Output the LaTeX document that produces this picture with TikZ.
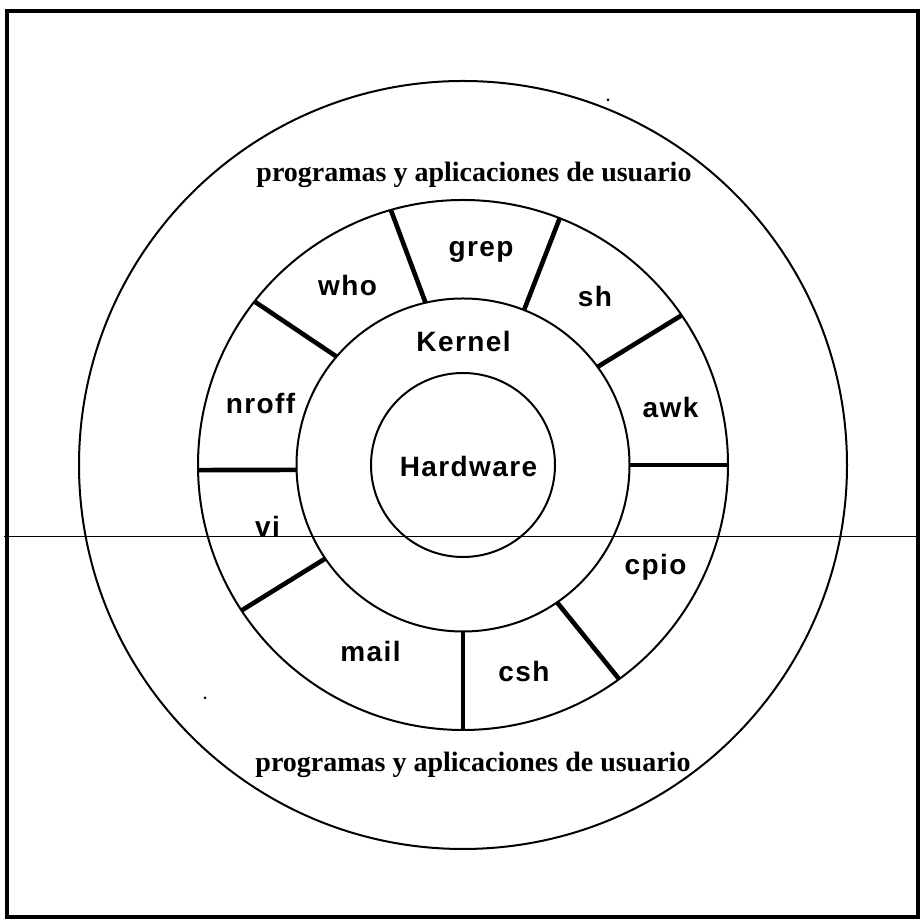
\documentclass[tikz,border=0pt]{standalone}
\usepackage{fontspec}
\setmainfont{Liberation Serif}
\newfontfamily\toolfont{Liberation Sans}[LetterSpace=5]
\begin{document}
\begin{tikzpicture}[x=0.5pt, y=0.5pt,
		ring/.style={line width=1pt},
		sep/.style={line width=2.3pt},
		tool/.style={font=\toolfont\bfseries\fontsize{14}{16}\selectfont, anchor=base},
		user/.style={font=\bfseries\fontsize{14}{17}\selectfont, anchor=base}]
	% Khung
	\useasboundingbox (0,0) rectangle (922,920);
	\draw[line width=2pt] (7,909) rectangle (918,3);
	
	% Tâm các vòng tròn
	\coordinate (O) at (463,455);
	
	% Vẽ các vòng tròn
	\draw[ring] (O) circle (384);
	\draw[ring] (O) circle (265);
	\draw[ring] (O) circle (166.5);
	\draw[ring] (O) circle (92);
	
	% Vạch chia giữa các chương trình
	\foreach \a/\b in {103/105.8, 68.5/68.6, 36.1/34.4, 0/0, -55.6/-53.9,
		-90/-90, 214.2/213.3, 181.7/181.1, 139.4/141.9}
		\draw[sep] ([shift={(\a:166.5)}]O) -- ([shift={(\b:265)}]O);
	
	% Đường ngang
	\draw[line width=0.5pt] (4,383) -- (918,383);
	\fill (608,820) circle (1.5);
	\fill (205,222) circle (1.5);
	
	% Gán nhãn
	\node[tool] (hw) at (468.5,443.6) {Hardware};
	\node[tool] (kernel) at (463.5,568.6) {Kernel};
	\node[tool] (grep) at (481,663) {grep};
	\node[tool] (who) at (347.5,624) {who};
	\node[tool] (sh) at (595,613) {sh};
	\node[tool] (awk) at (670.5,502.5) {awk};
	\node[tool] (nroff) at (260.5,506) {nroff};
	\node[tool] (vi) at (267.5,383) {vi};
	\node[tool] (cpio) at (655.5,345.4) {cpio};
	\node[tool] (mail) at (370.5,258) {mail};
	\node[tool] (csh) at (524,238) {csh};
	\node[user] (usertop) at (474,738.3) {programas y aplicaciones de usuario};
	\node[user] (userbot) at (473,148.3) {programas y aplicaciones de usuario};
\end{tikzpicture}
\end{document}
